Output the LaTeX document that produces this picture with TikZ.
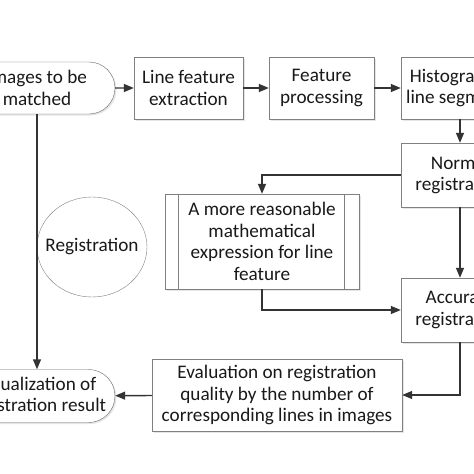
\documentclass[tikz,border=0pt]{standalone}
\usepackage{fontspec}
\setmainfont{Carlito}
\usetikzlibrary{shapes.misc, shapes.geometric, arrows.meta, shadows}
\begin{document}
\begin{tikzpicture}[
            x = 1pt, y = -1pt,
            every node/.style = {font = \fontsize{19.2}{21.8}\selectfont, text = black!90, align = center},
            block/.style = {draw = black!50, fill = white, inner sep = 0mm,
                drop shadow = {opacity = 0.2, shadow xshift = 1.5pt, shadow yshift = -1.5pt}},
            term/.style = {block, rounded rectangle, draw = black!60},
            arr/.style = {draw, black!80, line width = 1.4pt, -{Triangle[length = 10pt, width = 8pt]}},
        ]
        \fill[white] (0,0) rectangle (474,474);
        \clip (0,0) rectangle (474,474);

        \node (img) [term, minimum width = 156pt, minimum height = 52pt] at (37, 88) {Images to be\\matched};
        \node (lfe) [block, minimum width = 109pt, minimum height = 62pt] at (188.5, 88) {Line feature\\extraction};
        \node (fp) [block, minimum width = 105pt, minimum height = 62pt] at (321.5, 88) {Feature\\processing};
        \node (hist) [block, minimum width = 118pt, minimum height = 62pt] at (460, 88) {Histogram of\\line segments};

        \node (norm) [block, minimum width = 118pt, minimum height = 64pt] at (460, 175) {Normal\\registration};
        \node (math) [block, minimum width = 194pt, minimum height = 95pt] at (262, 241.5)
            {A more reasonable\\mathematical\\expression for line\\feature};
        \node (reg) [ellipse, draw = black!50, inner sep = 0mm, minimum width = 110pt, minimum height = 100pt]
            at (92, 247) {\makebox[0pt]{Registration}};
        \node (acc) [block, minimum width = 118pt, minimum height = 64pt] at (460, 310) {Accurate\\registration};

        \node (eval) [block, minimum width = 250pt, minimum height = 72pt] at (277, 395)
            {Evaluation on registration\\quality by the number of\\corresponding lines in images};
        \node (vis) [term, minimum width = 156pt, minimum height = 53pt] at (37, 396) {Visualization of\\registration result};

        \draw[black!50] ([xshift = 13pt]math.north west) -- ([xshift = 13pt]math.south west);
        \draw[black!50] ([xshift = -15pt]math.north east) -- ([xshift = -15pt]math.south east);

        \path[arr] (img) -- (lfe);
        \path[arr] (lfe) -- (fp);
        \path[arr] (fp) -- (hist);
        \path[arr] (hist) -- (norm);
        \path[arr] (norm.west) -| (math.north);
        \path[arr] (math.south) |- (acc.west);
        \path[arr] (norm) -- (acc);
        \path[arr] (acc.south) |- (eval.east);
        \path[arr] (eval) -- (vis);
        \path[arr] (img.south) -- (vis.north);
    \end{tikzpicture}
\end{document}
